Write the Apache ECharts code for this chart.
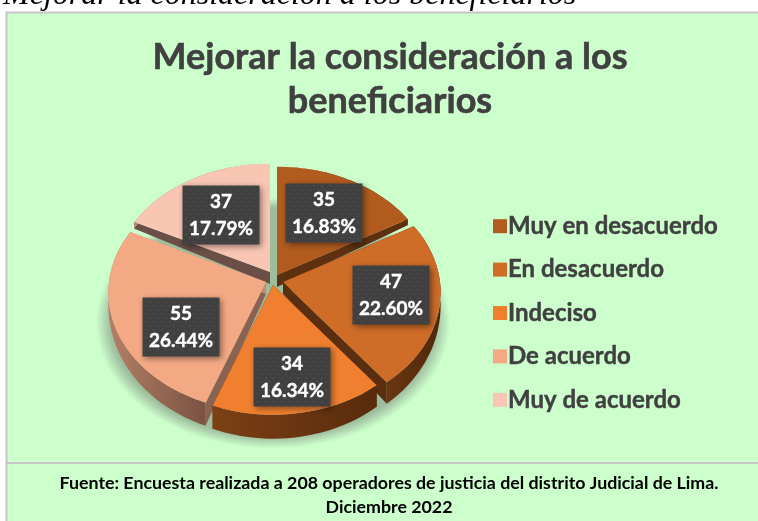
<!DOCTYPE html>
<html><head><meta charset="utf-8">
<style>html,body{margin:0;padding:0;background:#fff;overflow:hidden}#c{width:758px;height:521px}</style>
<script src="https://cdn.jsdelivr.net/npm/echarts@6/dist/echarts.min.js"></script>
</head><body><div id="c"></div>
<script>
const categories = ['Muy en desacuerdo','En desacuerdo','Indeciso','De acuerdo','Muy de acuerdo'];
const values = [35,47,34,55,37];
const percentLabels = ['16.83%','22.60%','16.34%','26.44%','17.79%'];
const topColors = ['#B25B1F','#CE6C28','#F08030','#F4A985','#F9C6B4'];
const legendColors = ['#B25B1F','#CE6C28','#F08030','#F4A985','#F9C6B4'];
const captionText = 'Mejorar la consideración a los beneficiarios';
const titleText = 'Mejorar la consideración a los\nbeneficiarios';
const footerText = 'Fuente: Encuesta realizada a 208 operadores de justicia del distrito Judicial de Lima.\nDiciembre 2022';

// presentation only: exploded hub of each slice, wall colours, label anchor
const hubs = [[277,275],[283,282],[273,285],[266,282],[270,272]];
const labelBoxes = [[324,213],[391,295],[292,377],[181,327],[221,215]];
const wallColors = [['#7a4014','#5f300f'],['#6a3611','#4f280b'],['#7c4014','#582b0d'],['#b47f66','#7a5242'],['#b08a7a','#8a6a5c']];
const edgeColors = [['#5f300f','#5f300f'],['#5a2e0e','#5a2e0e'],['#5a2e0e','#5a2e0e'],['#8a6252','#c48b72'],['#6b4f46','#6b4f46']];
const paint = [4,0,3,1,2]; // back to front

const RX=157, RY=119, P=0.09;
const total = values.reduce((a,b)=>a+b,0);
function project(hub,deg,t){
  const r=deg*Math.PI/180, u=t*Math.sin(r), v=t*Math.cos(r), f=1-P*v;
  return [hub[0]+RX*u*f, hub[1]-RY*v*f, v];
}
function depth(v){return Math.max(0,12-12*v);}
function down(p){return [p[0],p[1]+depth(p[2])];}
function arc(hub,a,b){const n=Math.ceil((b-a)/2),o=[];for(let i=0;i<=n;i++)o.push(project(hub,a+(b-a)*i/n,1));return o;}
const xy=p=>[p[0],p[1]];
function grad(c){return {type:'linear',x:0,y:0,x2:1,y2:0,colorStops:[{offset:0,color:c[0]},{offset:1,color:c[1]}]};}

const pc=document.createElement('canvas');pc.width=8;pc.height=8;
const g=pc.getContext('2d');g.fillStyle='#404040';g.fillRect(0,0,8,8);g.fillStyle='#4c4c4c';
g.beginPath();g.arc(2,2,1,0,7);g.arc(6,6,1,0,7);g.fill();

const series=[{
  type:'custom',name:'sombra',coordinateSystem:'none',silent:true,z:2,data:[[0]],
  renderItem(){
    const layers=[];
    for(let k=0;k<24;k++){
      const s=1.06-k*0.004,pts=[];
      for(let a=0;a<360;a+=3){const r=a*Math.PI/180,v=Math.cos(r),f=1-P*v;
        pts.push([273+166*s*Math.sin(r)*f,312-118*s*v*f]);}
      layers.push({type:'polygon',shape:{points:pts},style:{fill:'rgba(80,115,85,0.02)'}});
    }
    return {type:'group',children:layers};
  }
}];
let acc=0;
categories.forEach((name,i)=>{
  const start=acc; acc+=values[i];
  series.push({
    type:'custom',name,coordinateSystem:'none',silent:true,z:3+paint.indexOf(i),
    itemStyle:{color:legendColors[i]},
    data:[[values[i]]],
    renderItem(params,api){
      const a=start/total*360,b=a+api.value(0)/total*360,h=hubs[i];
      const rim=arc(h,a,b),hub=[h[0],h[1],0];
      const wall=(p,q,fill)=>({type:'polygon',shape:{points:[xy(p),xy(q),down(q),down(p)]},style:{fill}});
      return {type:'group',children:[
        wall(hub,rim[0],edgeColors[i][0]),
        wall(hub,rim[rim.length-1],edgeColors[i][1]),
        {type:'polygon',shape:{points:rim.map(xy).concat(rim.slice().reverse().map(down))},style:{fill:grad(wallColors[i])}},
        {type:'polygon',shape:{points:[xy(hub)].concat(rim.map(xy))},style:{fill:topColors[i]}}
      ]};
    }
  });
});
series.push({
  type:'custom',name:'etiquetas',coordinateSystem:'none',silent:true,z:20,
  data:values.map((v,i)=>[v,i]),
  renderItem(params,api){
    const v=api.value(0),i=api.value(1),c=labelBoxes[i],w=77,h=59;
    return {type:'group',children:[
      {type:'rect',shape:{x:c[0]-w/2,y:c[1]-h/2,width:w,height:h},
       style:{fill:{image:pc,repeat:'repeat'},shadowBlur:6,shadowColor:'rgba(0,0,0,0.45)',shadowOffsetX:2,shadowOffsetY:2}},
      {type:'text',style:{x:c[0],y:c[1],text:v+'\n'+percentLabels[i],fill:'#fff',align:'center',verticalAlign:'middle',
        font:'bold 19px Lato',lineHeight:27,stroke:'#fff',lineWidth:0.4}}
    ]};
  }
});

const chart=echarts.init(document.getElementById('c'),null,{renderer:'canvas'});
chart.setOption({
  animation:false,
  backgroundColor:'#fff',
  title:[
    {text:titleText,left:385,top:30,textAlign:'center',textStyle:{fontFamily:'Lato',fontWeight:'bold',fontSize:36,lineHeight:44,color:'#404040',textBorderColor:'#404040',textBorderWidth:0.6}},
    {text:footerText,left:384,top:466,textAlign:'center',textStyle:{fontFamily:'Lato',fontWeight:'bold',fontSize:17.8,lineHeight:24,color:'#000'}},
    {text:captionText,left:-2,top:-25,textStyle:{fontFamily:'Liberation Serif',fontStyle:'italic',fontWeight:'normal',fontSize:32,color:'#000'}}
  ],
  legend:{
    data:categories,left:488,top:209,orient:'vertical',icon:'rect',itemWidth:14,itemHeight:14,itemGap:19,selectedMode:false,
    textStyle:{fontFamily:'Lato',fontWeight:'bold',fontSize:24,color:'#404040',padding:[0,0,0,-4],textBorderColor:'#404040',textBorderWidth:0.4}
  },
  graphic:[
    {type:'rect',z:-1,shape:{x:6.5,y:12.5,width:760,height:520},style:{fill:'#CCFFCC',stroke:'#c6c6c6',lineWidth:2}},
    {type:'line',z:-1,shape:{x1:6,y1:463,x2:758,y2:463},style:{stroke:'#c6c6c6',lineWidth:2}}
  ],
  series
});
</script></body></html>
